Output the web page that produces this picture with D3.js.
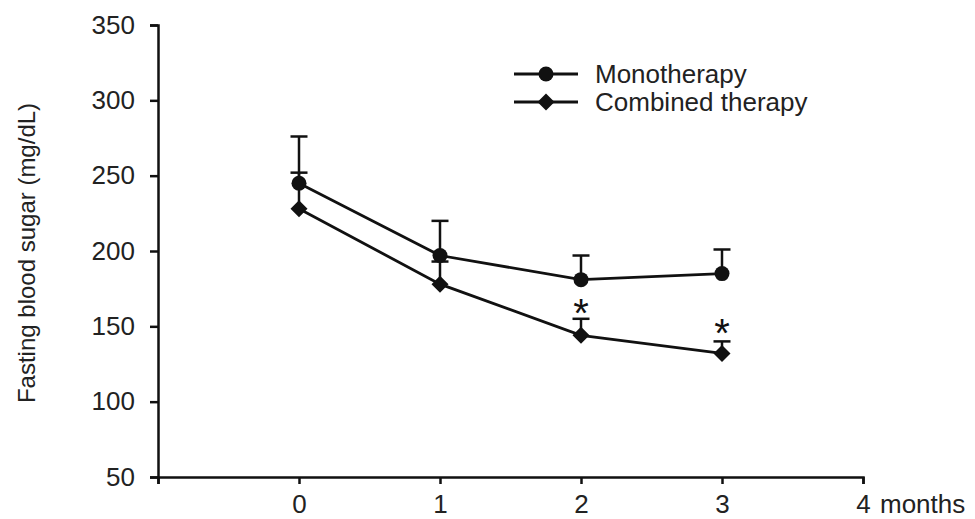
<!DOCTYPE html>
<html>
<head>
<meta charset="utf-8">
<script src="https://cdn.jsdelivr.net/npm/d3@7"></script>
<style>
  body { margin: 0; background: #fff; }
  svg { display: block; font-family: "Liberation Sans", Arial, sans-serif; }
</style>
</head>
<body>
<script>
'use strict';

// months after start of therapy
const months = [0, 1, 2, 3];
// fasting blood sugar means (mg/dL) and upward error bars
const monoMean = [245, 197, 181, 185];
const monoErr = [31, 23, 16, 16];
const combMean = [228, 178, 144, 132];
const combErr = [24, 15, 11, 8];
// significance marks (month, y value of the asterisk)
const starMonths = [2, 3];
const starValues = [164, 151];
// axis ticks
const xTicks = [-1, 0, 1, 2, 3, 4];
const xTickLabels = ["", "0", "1", "2", "3", "4"];
const yTicks = [50, 100, 150, 200, 250, 300, 350];

const series = [
  { name: "Monotherapy", mean: monoMean, err: monoErr, marker: "circle" },
  { name: "Combined therapy", mean: combMean, err: combErr, marker: "diamond" }
];

const width = 975, height = 519;
const ink = "#111";

const svg = d3.select("body").append("svg")
  .attr("width", width)
  .attr("height", height);

const x = d3.scaleLinear().domain([-1, 4]).range([158, 863]);
const y = d3.scaleLinear().domain([50, 350]).range([477, 25]);

// axes
const xAxis = d3.axisBottom(x)
  .tickValues(xTicks)
  .tickFormat((d, i) => xTickLabels[i])
  .tickSize(7)
  .tickPadding(11);
const gx = svg.append("g")
  .attr("transform", `translate(0,${y(50)})`)
  .call(xAxis);

const yAxis = d3.axisLeft(y)
  .tickValues(yTicks)
  .tickSize(8)
  .tickPadding(15);
const gy = svg.append("g")
  .attr("transform", `translate(${x(-1)},0)`)
  .call(yAxis);

[gx, gy].forEach(g => {
  g.selectAll("path, line").attr("stroke", ink).attr("stroke-width", 2.5);
  g.selectAll("text").attr("fill", "#222").style("font-size", "26px");
});

svg.append("text")
  .attr("x", 880)
  .attr("y", y(50) + 36)
  .attr("fill", "#222")
  .style("font-size", "26px")
  .text("months");

svg.append("text")
  .attr("transform", `translate(35,${(y(350) + y(50)) / 2 + 2})rotate(-90)`)
  .attr("text-anchor", "middle")
  .attr("fill", "#222")
  .style("font-size", "24px")
  .text("Fasting blood sugar (mg/dL)");

// markers
const circleSym = d3.symbol().type(d3.symbolCircle).size(Math.PI * 7.5 * 7.5);
const diamondPath = s => `M0,${-s}L${s},0L0,${s}L${-s},0Z`;
function drawMarker(g, type) {
  if (type === "circle") {
    g.append("path").attr("d", circleSym()).attr("fill", ink);
  } else {
    g.append("path").attr("d", diamondPath(8.5)).attr("fill", ink);
  }
}

// error bars (upward only)
series.forEach(s => {
  const eg = svg.append("g");
  months.forEach((m, i) => {
    const top = y(s.mean[i] + s.err[i]);
    eg.append("line")
      .attr("x1", x(m)).attr("x2", x(m))
      .attr("y1", y(s.mean[i])).attr("y2", top)
      .attr("stroke", ink).attr("stroke-width", 2.5);
    eg.append("line")
      .attr("x1", x(m) - 8.5).attr("x2", x(m) + 8.5)
      .attr("y1", top).attr("y2", top)
      .attr("stroke", ink).attr("stroke-width", 2.5);
  });
});

// lines
const line = d3.line()
  .x((d, i) => x(months[i]))
  .y(d => y(d));
series.forEach(s => {
  svg.append("path")
    .attr("d", line(s.mean))
    .attr("fill", "none")
    .attr("stroke", ink)
    .attr("stroke-width", 2.8);
});

// points
series.forEach(s => {
  months.forEach((m, i) => {
    const g = svg.append("g").attr("transform", `translate(${x(m)},${y(s.mean[i])})`);
    drawMarker(g, s.marker);
  });
});

// significance asterisks
starMonths.forEach((m, i) => {
  svg.append("text")
    .attr("x", x(m))
    .attr("y", y(starValues[i]) + 22)
    .attr("text-anchor", "middle")
    .attr("fill", ink)
    .style("font-size", "40px")
    .text("*");
});

// legend
const legend = svg.append("g");
series.forEach((s, i) => {
  const ly = 74 + i * 28;
  legend.append("line")
    .attr("x1", 514).attr("x2", 578)
    .attr("y1", ly).attr("y2", ly)
    .attr("stroke", ink).attr("stroke-width", 2.8);
  const g = legend.append("g").attr("transform", `translate(546,${ly})`);
  drawMarker(g, s.marker);
  legend.append("text")
    .attr("x", 595)
    .attr("y", ly)
    .attr("dy", "0.35em")
    .attr("fill", "#222")
    .style("font-size", "26px")
    .text(s.name);
});
</script>
</body>
</html>
